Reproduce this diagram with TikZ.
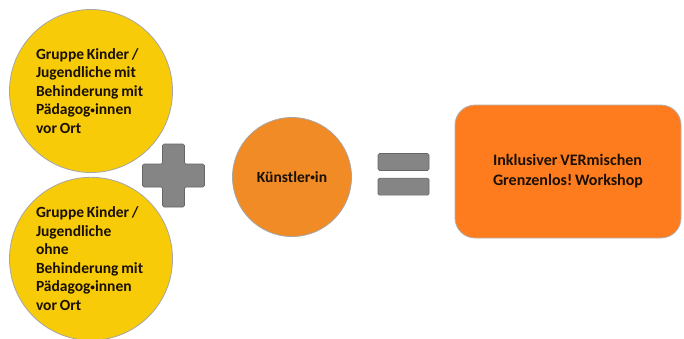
\documentclass[tikz,border=0pt]{standalone}
\usepackage{fontspec}
\setmainfont{Carlito}[WordSpace=0.8]
\usepackage{tikz}
\usetikzlibrary{positioning}
\frenchspacing
\definecolor{kidyellow}{HTML}{F7CB08}
\definecolor{artistorange}{HTML}{F08B26}
\definecolor{boxorange}{HTML}{FF7C1E}
\definecolor{signgray}{HTML}{858585}
\definecolor{labeltext}{HTML}{1A1005}
\newcommand{\gdot}{\raisebox{0.2ex}{\scalebox{0.6}{•}}}
\tikzset{
    group/.style={circle, fill=kidyellow, draw=gray!70, line width=0.8pt,
        minimum size=163pt, inner sep=0pt, text width=110pt, align=flush left,
        font=\fontsize{15.5}{18.5}\selectfont\bfseries, text=labeltext},
    artist/.style={circle, fill=artistorange, draw=gray!70, line width=0.8pt,
        minimum size=119pt, inner sep=0pt,
        font=\fontsize{15.5}{18.5}\selectfont\bfseries, text=labeltext},
    result/.style={rectangle, rounded corners=20pt, fill=boxorange,
        draw=gray!60, line width=0.8pt, minimum width=226pt,
        minimum height=133pt, align=flush left,
        font=\fontsize{16}{20}\selectfont\bfseries, text=labeltext},
    bar/.style={rectangle, rounded corners=1.5pt, fill=signgray,
        draw=gray!80!black, line width=0.6pt,
        minimum width=51pt, minimum height=17pt, inner sep=0pt},
}

\begin{document}
\begin{tikzpicture}[x=1pt, y=-1pt]
    \useasboundingbox (0,0) rectangle (684,338);
    % set up the nodes
    \node[group] (A) at (91,91) {Gruppe Kinder /\\Jugendliche mit\\Behinderung mit\\Pädagog\gdot innen\\vor Ort};
    \node[group, below=4pt of A] (B) {Gruppe Kinder /\\Jugendliche\\ohne\\Behinderung mit\\Pädagog\gdot innen\\vor Ort};
    \node[artist] (K) at (292,177) {Künstler\gdot in};
    \node[result] (W) at (568,171.5) {Inklusiver VERmischen\\Grenzenlos! Workshop};
    \node[bar] (E1) at (403.5,162) {};
    \node[bar, below=7pt of E1] (E2) {};
    % draw the plus sign between them
    \coordinate (P) at (173.5,175.5);
    \fill[signgray, draw=gray!80!black, line width=0.6pt, rounded corners=1.5pt]
        ([shift={(-11,-31.5)}]P) -- ++(22,0) -- ++(0,20) -- ++(20,0)
        -- ++(0,23) -- ++(-20,0) -- ++(0,20) -- ++(-22,0) -- ++(0,-20)
        -- ++(-20,0) -- ++(0,-23) -- ++(20,0) -- cycle;
\end{tikzpicture}
\end{document}
